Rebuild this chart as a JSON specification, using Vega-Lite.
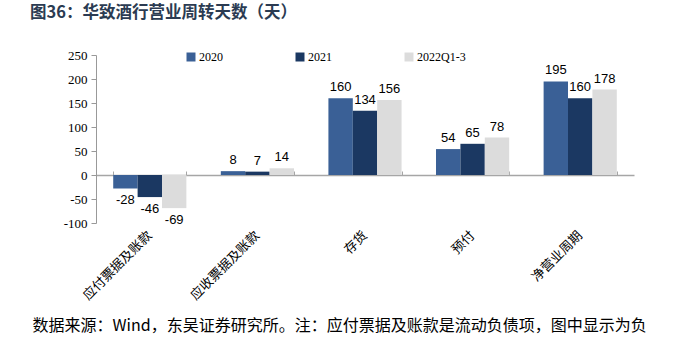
{
  "$schema": "https://vega.github.io/schema/vega-lite/v6.json",
  "autosize": {"type": "none"},
  "width": 538,
  "height": 168,
  "padding": {"left": 96, "top": 55, "right": 44, "bottom": 129},
  "background": "white",
  "title": {
    "text": "图36：华致酒行营业周转天数（天）",
    "anchor": "start",
    "frame": "group",
    "dx": -66,
    "offset": 28,
    "font": "Noto Sans CJK SC",
    "fontSize": 16.5,
    "fontWeight": "bold",
    "color": "#2B3B52"
  },
  "data": {
    "values": [
      {"cat": "应付票据及账款", "series": "2020", "value": -28},
      {"cat": "应付票据及账款", "series": "2021", "value": -46},
      {"cat": "应付票据及账款", "series": "2022Q1-3", "value": -69},
      {"cat": "应收票据及账款", "series": "2020", "value": 8},
      {"cat": "应收票据及账款", "series": "2021", "value": 7},
      {"cat": "应收票据及账款", "series": "2022Q1-3", "value": 14},
      {"cat": "存货", "series": "2020", "value": 160},
      {"cat": "存货", "series": "2021", "value": 134},
      {"cat": "存货", "series": "2022Q1-3", "value": 156},
      {"cat": "预付", "series": "2020", "value": 54},
      {"cat": "预付", "series": "2021", "value": 65},
      {"cat": "预付", "series": "2022Q1-3", "value": 78},
      {"cat": "净营业周期", "series": "2020", "value": 195},
      {"cat": "净营业周期", "series": "2021", "value": 160},
      {"cat": "净营业周期", "series": "2022Q1-3", "value": 178}
    ]
  },
  "resolve": {"axis": {"x": "independent"}},
  "encoding": {
    "x": {
      "field": "cat",
      "type": "nominal",
      "sort": null,
      "scale": {"paddingInner": 0.32, "paddingOuter": 0.16}
    },
    "xOffset": {"field": "series", "type": "nominal", "scale": {"paddingInner": 0}},
    "y": {
      "field": "value",
      "type": "quantitative",
      "scale": {"domain": [-100, 250], "nice": false, "zero": false},
      "axis": {
        "values": [-100, -50, 0, 50, 100, 150, 200, 250],
        "title": null,
        "grid": false,
        "domainColor": "#999999",
        "tickColor": "#999999",
        "tickSize": 5,
        "labelFont": "Liberation Serif",
        "labelFontSize": 13,
        "labelColor": "#000000",
        "labelPadding": 4
      }
    }
  },
  "layer": [
    {
      "mark": {"type": "bar"},
      "encoding": {
        "x": {
          "field": "cat",
          "type": "nominal",
          "sort": null,
          "axis": {
            "orient": "bottom",
            "title": "数据来源：Wind，东吴证券研究所。注：应付票据及账款是流动负债项，图中显示为负",
            "titleFont": "Noto Sans CJK SC",
            "titleFontSize": 16,
            "titleFontWeight": "normal",
            "titleColor": "#000000",
            "titleAnchor": "start",
            "titleAlign": "left",
            "titleBaseline": "alphabetic",
            "titleX": -64,
            "titleY": 107,
            "domain": false,
            "ticks": false,
            "labelAngle": -45,
            "labelAlign": "right",
            "labelBaseline": "middle",
            "labelPadding": 10,
            "labelFont": "Noto Sans CJK SC",
            "labelFontSize": 13,
            "labelColor": "#000000"
          }
        },
        "color": {
          "field": "series",
          "type": "nominal",
          "scale": {"domain": ["2020", "2021", "2022Q1-3"], "range": ["#3A6096", "#1B3862", "#DCDCDC"]},
          "legend": {
            "title": null,
            "orient": "none",
            "direction": "horizontal",
            "legendX": 89,
            "legendY": -4,
            "symbolType": "square",
            "symbolSize": 81,
            "symbolStrokeWidth": 0,
            "symbolOpacity": 1,
            "labelFont": "Liberation Serif",
            "labelFontSize": 12,
            "labelColor": "#000000",
            "labelOffset": 2,
            "gridAlign": "all",
            "columnPadding": 46
          }
        }
      }
    },
    {
      "mark": {"type": "rule", "color": "#A6A6A6", "strokeWidth": 1.5},
      "encoding": {
        "x": {
          "field": "cat",
          "type": "nominal",
          "sort": null,
          "axis": {
            "orient": "top",
            "offset": -120,
            "title": null,
            "labels": false,
            "domain": true,
            "domainColor": "#A6A6A6",
            "domainWidth": 1.5,
            "ticks": true,
            "tickBand": "extent",
            "tickColor": "#A6A6A6",
            "tickSize": 4
          }
        },
        "xOffset": null,
        "y": {"datum": 0},
        "color": {"value": "#A6A6A6"},
        "opacity": {"value": 0}
      }
    },
    {
      "transform": [{"filter": "datum.value >= 0"}],
      "mark": {"type": "text", "baseline": "bottom", "dy": -4, "font": "Liberation Sans", "fontSize": 13, "color": "#000000"},
      "encoding": {
        "x": {"field": "cat", "type": "nominal", "sort": null, "axis": null},
        "text": {"field": "value", "type": "quantitative"}
      }
    },
    {
      "transform": [{"filter": "datum.value < 0"}],
      "mark": {"type": "text", "baseline": "top", "dy": 6, "font": "Liberation Sans", "fontSize": 13, "color": "#000000"},
      "encoding": {
        "x": {"field": "cat", "type": "nominal", "sort": null, "axis": null},
        "text": {"field": "value", "type": "quantitative"}
      }
    }
  ],
  "config": {
    "view": {"stroke": null},
    "locale": {
      "number": {"decimal": ".", "thousands": ",", "grouping": [3], "currency": ["$", ""], "minus": "-"}
    }
  }
}
